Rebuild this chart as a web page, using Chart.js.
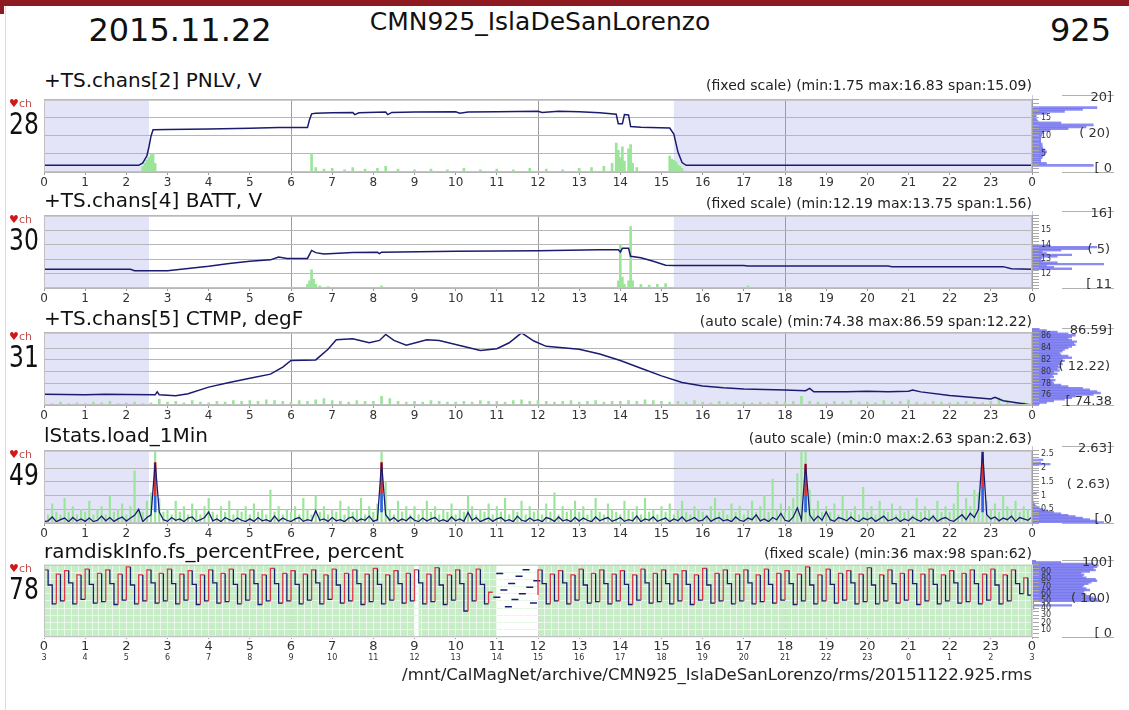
<!DOCTYPE html>
<html>
<head>
<meta charset="utf-8">
<script src="https://cdn.jsdelivr.net/npm/chart.js@4.4.1/dist/chart.umd.min.js"></script>
<style>
    body { margin: 0; background: #fff; }
    #page { position: relative; width: 1129px; height: 710px; overflow: hidden; background: #fff;
            font-family: 'DejaVu Sans', sans-serif; }
    .txt { position: absolute; white-space: nowrap; color: #111; }
    .rule { position: absolute; height: 0; border-top: 1px solid #b0b0b0; }
    canvas { position: absolute; }
</style>
</head>
<body>
<div id="page"></div>
<script>
// ---- HEADER TEXT ----
const dateText = "2015.11.22";
const stationText = "CMN925_IslaDeSanLorenzo";
const stationNum = "925";
const pathText = "/mnt/CalMagNet/archive/CMN925_IslaDeSanLorenzo/rms/20151122.925.rms";

// shaded night hours (panels 1-4)
const nightSpans = [[0, 2.55], [15.3, 24]];
// local hour = utc hour + offset (second label row of last panel)
const hourOffset = 3;

// ---- PANEL 1: PNLV ----
const pnlvHours = [0, 2.3, 2.4, 2.5, 2.55, 2.6, 2.65, 3, 4, 5, 5.7, 6.4, 6.45, 6.5, 6.6, 7, 7.5, 7.55, 7.65, 8.3,
    8.35, 8.45, 9, 10, 10.1, 10.3, 11, 12, 12.1, 12.5, 13, 13.5, 13.9, 13.95, 14.05, 14.1, 14.2, 14.25, 14.5, 15.2,
    15.3, 15.4, 15.5, 15.6, 24];
const pnlvVolts = [1.85, 1.85, 2.5, 4.5, 7.0, 10.0, 11.7, 11.8, 11.9, 12.1, 12.3, 12.3, 14.5, 16.1, 16.3, 16.4, 16.5, 15.9, 16.4, 16.6,
    15.9, 16.5, 16.6, 16.7, 16.3, 16.6, 16.7, 16.83, 16.5, 16.8, 16.7, 16.4, 16.0, 13.4, 13.4, 15.9, 15.8, 12.6, 12.4, 12.2,
    10.5, 5.5, 2.6, 1.85, 1.85];
const pnlvActHours = [2.4, 2.45, 2.5, 2.55, 2.6, 2.65, 2.7, 6.5, 6.6, 6.8, 7.0, 7.3, 7.5, 7.8, 8.1, 8.3, 8.6, 9.0, 9.4, 9.8,
    10.2, 10.6, 11.0, 11.4, 11.8, 12.2, 12.6, 13.0, 13.3, 13.6, 13.8, 13.9, 13.95, 14.0, 14.05, 14.1, 14.2, 14.25, 14.3, 14.4,
    15.2, 15.25, 15.3, 15.35, 15.4, 15.45, 15.5];
const pnlvAct = [0.08, 0.12, 0.16, 0.2, 0.24, 0.26, 0.12, 0.26, 0.06, 0.04, 0.05, 0.03, 0.06, 0.04, 0.05, 0.08, 0.04, 0.03, 0.04, 0.03,
    0.05, 0.03, 0.04, 0.03, 0.05, 0.04, 0.03, 0.05, 0.06, 0.08, 0.12, 0.4, 0.3, 0.2, 0.35, 0.15, 0.32, 0.38, 0.12, 0.06,
    0.22, 0.18, 0.16, 0.14, 0.1, 0.08, 0.05];
// histogram, 0..20 V in 0.5 V bins
const pnlvHist = [0, 0, 0, 85, 20, 12, 12, 14, 15, 18, 20, 18, 15, 14, 14, 12, 12, 12, 13, 14,
    16, 25, 50, 75, 85, 40, 8, 6, 5, 6, 20, 45, 70, 90, 0, 0, 0, 0, 0, 0];

// ---- PANEL 2: BATT ----
const battHours = [0, 2.1, 2.2, 3.0, 3.5, 4, 4.5, 5.0, 5.5, 5.7, 5.9, 6.4, 6.5, 6.6, 6.8, 7.5, 8.1, 8.15, 8.2, 10,
    12, 13.5, 13.95, 14.0, 14.05, 14.2, 14.25, 14.5, 14.8, 15.1, 15.3, 17, 17.1, 20.5, 20.6, 23.3, 23.5, 24];
const battVolts = [12.3, 12.3, 12.2, 12.2, 12.35, 12.5, 12.7, 12.85, 12.95, 13.15, 13.05, 13.05, 13.6, 13.45, 13.35, 13.45, 13.47, 13.38, 13.48, 13.55,
    13.58, 13.65, 13.65, 13.5, 13.75, 13.75, 13.2, 13.1, 12.85, 12.58, 12.55, 12.55, 12.52, 12.52, 12.48, 12.48, 12.33, 12.3];
const battActHours = [6.4, 6.45, 6.5, 6.55, 6.6, 6.7, 6.9, 8.2, 13.95, 14.0, 14.05, 14.1, 14.2, 14.25, 14.3, 14.5, 14.7, 14.9, 15.1, 17.1];
const battAct = [0.05, 0.1, 0.25, 0.12, 0.05, 0.03, 0.02, 0.03, 0.1, 0.6, 0.15, 0.05, 0.1, 0.85, 0.1, 0.05, 0.04, 0.05, 0.06, 0.03];
// histogram, 11..16 V in 0.1 V bins
const battHist = [0, 0, 0, 0, 0, 0, 0, 0, 0, 0,
    0, 0, 55, 30, 20, 100, 35, 15, 12, 14,
    35, 55, 20, 14, 40, 80, 90, 25, 0, 0,
    0, 0, 0, 0, 0, 0, 0, 0, 0, 0,
    0, 0, 0, 0, 0, 0, 0, 0, 0, 0];

// ---- PANEL 3: CTMP ----
const ctmpHours = [0, 0.5, 1, 1.5, 2, 2.7, 2.75, 2.8, 3.2, 3.5, 4, 4.5, 5, 5.5, 5.8, 6.0, 6.6, 6.9, 7.1, 7.5,
    7.9, 8.15, 8.3, 8.5, 8.8, 9.3, 9.6, 10.0, 10.6, 11.0, 11.3, 11.6, 11.9, 12.2, 13, 13.5, 14, 14.5, 15, 15.5,
    16, 16.5, 17, 18, 18.5, 18.6, 18.7, 19.5, 20, 20.5, 21, 21.1, 21.3, 22, 22.5, 23, 23.1, 23.3, 24];
const ctmpVals = [76.2, 76.15, 76.1, 76.2, 76.15, 76.1, 76.6, 76.1, 75.95, 76.3, 77.4, 78.2, 78.9, 79.6, 80.8, 81.9, 82.0, 83.8, 85.4, 85.6,
    84.9, 85.3, 86.3, 85.3, 84.5, 85.4, 85.3, 84.6, 83.6, 83.9, 84.9, 86.59, 85.2, 84.3, 83.8, 83.0, 81.9, 80.6, 79.3, 78.2,
    77.6, 77.3, 77.1, 76.9, 76.8, 77.2, 76.6, 76.6, 76.7, 76.6, 76.7, 76.9, 76.6, 76.0, 75.7, 75.4, 75.7, 75.1, 74.38];
// activity every 0.2 h
const ctmpAct = [0.03, 0.02, 0.04, 0.02, 0.03, 0.02, 0.04, 0.03, 0.05, 0.02,
    0.03, 0.04, 0.02, 0.03, 0.08, 0.04, 0.05, 0.03, 0.06, 0.04,
    0.03, 0.05, 0.04, 0.06, 0.05, 0.06, 0.05, 0.07, 0.06, 0.05,
    0.04, 0.06, 0.05, 0.07, 0.09, 0.06, 0.05, 0.04, 0.06, 0.05,
    0.05, 0.12, 0.09, 0.05, 0.04, 0.05, 0.04, 0.06, 0.05, 0.04,
    0.04, 0.05, 0.04, 0.06, 0.05, 0.05, 0.04, 0.06, 0.07, 0.05,
    0.06, 0.05, 0.04, 0.05, 0.06, 0.04, 0.05, 0.06, 0.04, 0.05,
    0.05, 0.06, 0.05, 0.07, 0.06, 0.05, 0.04, 0.05, 0.04, 0.06,
    0.04, 0.03, 0.05, 0.04, 0.03, 0.04, 0.03, 0.04, 0.03, 0.05,
    0.04, 0.05, 0.12, 0.05, 0.04, 0.03, 0.05, 0.04, 0.06, 0.04,
    0.04, 0.03, 0.06, 0.04, 0.05, 0.07, 0.04, 0.03, 0.05, 0.04,
    0.03, 0.04, 0.05, 0.04, 0.03, 0.05, 0.10, 0.04, 0.03, 0.04,
    0.03];
// histogram, 74.38..86.59 degF in 48 bins
const ctmpHist = [10, 20, 30, 45, 55, 60, 85, 95, 90, 80, 70, 50, 40, 30, 28, 32, 25, 30, 28, 35,
    30, 38, 35, 40, 36, 42, 40, 45, 42, 55, 50, 40, 38, 42, 45, 50, 55, 60, 58, 62,
    55, 50, 55, 60, 50, 35, 20, 10];

// ---- PANEL 4: load_1Min, every 0.1 h ----
const loadAvg = [0.05, 0.08, 0.22, 0.05, 0.12, 0.18, 0.05, 0.2, 0.07, 0.15,
    0.06, 0.18, 0.05, 0.1, 0.25, 0.08, 0.2, 0.06, 0.15, 0.22,
    0.07, 0.18, 0.28, 0.5, 0.05, 0.2, 0.3, 2.2, 0.4, 0.12,
    0.06, 0.2, 0.1, 0.15, 0.05, 0.18, 0.22, 0.06, 0.12, 0.2,
    0.4, 0.08, 0.15, 0.05, 0.2, 0.12, 0.06, 0.18, 0.1, 0.05,
    0.15, 0.06, 0.2, 0.08, 0.12, 0.05, 0.25, 0.07, 0.18, 0.1,
    0.05, 0.15, 0.2, 0.06, 0.12, 0.08, 0.45, 0.1, 0.15, 0.06,
    0.2, 0.08, 0.12, 0.05, 0.18, 0.22, 0.06, 0.15, 0.1, 0.25,
    0.06, 0.12, 2.2, 0.3, 0.1, 0.2, 0.06, 0.15, 0.08, 0.22,
    0.1, 0.05, 0.18, 0.07, 0.15, 0.2, 0.06, 0.12, 0.05, 0.22,
    0.08, 0.15, 0.06, 0.38, 0.1, 0.2, 0.05, 0.12, 0.18, 0.06,
    0.15, 0.2, 0.07, 0.12, 0.05, 0.25, 0.1, 0.06, 0.18, 0.08,
    0.12, 0.05, 0.2, 0.15, 0.06, 0.22, 0.08, 0.12, 0.05, 0.2,
    0.07, 0.18, 0.1, 0.05, 0.22, 0.08, 0.15, 0.2, 0.06, 0.12,
    0.2, 0.06, 0.12, 0.08, 0.25, 0.05, 0.15, 0.1, 0.22, 0.06,
    0.12, 0.18, 0.05, 0.15, 0.08, 0.22, 0.06, 0.12, 0.2, 0.07,
    0.1, 0.25, 0.06, 0.15, 0.2, 0.08, 0.12, 0.05, 0.22, 0.1,
    0.06, 0.18, 0.12, 0.3, 0.08, 0.15, 0.05, 0.2, 0.12, 0.35,
    0.1, 0.06, 0.22, 0.55, 0.12, 2.15, 0.3, 0.08, 0.25, 0.1,
    0.4, 0.12, 0.06, 0.2, 0.15, 0.08, 0.22, 0.1, 0.05, 0.18,
    0.12, 0.2, 0.06, 0.15, 0.25, 0.08, 0.12, 0.2, 0.05, 0.15,
    0.08, 0.22, 0.12, 0.06, 0.18, 0.1, 0.25, 0.06, 0.15, 0.2,
    0.1, 0.06, 0.18, 0.3, 0.12, 0.35, 0.2, 0.5, 2.63, 0.3,
    0.15, 0.22, 0.08, 0.18, 0.12, 0.25, 0.06, 0.2, 0.15, 0.1,
    0.22];
const loadMax = [0.5, 0.3, 0.7, 0.4, 0.3, 0.9, 0.4, 0.6, 0.3, 0.5,
    0.4, 0.8, 0.3, 0.5, 0.6, 0.3, 1.0, 0.4, 0.5, 0.7,
    0.3, 0.6, 1.9, 0.5, 0.4, 0.8, 1.1, 2.6, 0.9, 0.4,
    0.5, 0.3, 0.8, 0.4, 0.6, 0.3, 0.7, 0.5, 0.3, 0.6,
    0.9, 0.4, 0.3, 0.6, 0.4, 0.8, 0.3, 0.5, 0.4, 0.6,
    0.3, 0.7, 0.4, 0.5, 0.3, 1.2, 0.4, 0.6, 0.3, 0.5,
    0.4, 0.6, 0.3, 0.9, 0.5, 0.3, 1.0, 0.4, 0.6, 0.3,
    0.5, 0.4, 0.8, 0.3, 0.6, 0.4, 0.5, 0.9, 0.3, 0.6,
    0.4, 0.7, 2.6, 1.5, 0.5, 0.3, 0.8, 0.4, 0.6, 0.3,
    0.6, 0.3, 0.5, 0.8, 0.4, 0.6, 0.3, 0.5, 0.4, 0.7,
    0.3, 0.5, 0.4, 1.0, 0.6, 0.3, 0.5, 0.4, 0.7, 0.3,
    0.6, 0.4, 0.9, 0.3, 0.5, 0.4, 0.8, 0.3, 0.6, 0.4,
    0.5, 0.3, 0.7, 0.4, 1.1, 0.3, 0.6, 0.4, 0.5, 0.8,
    0.4, 0.6, 0.3, 0.5, 0.9, 0.4, 0.3, 0.7, 0.5, 0.4,
    0.3, 0.8, 0.5, 0.4, 0.6, 0.3, 0.9, 0.4, 0.5, 0.3,
    0.6, 0.4, 0.7, 0.3, 0.5, 0.8, 0.4, 0.3, 0.6, 0.5,
    0.4, 0.3, 0.6, 0.9, 0.4, 0.5, 0.3, 0.7, 0.4, 0.6,
    0.3, 0.5, 0.8, 0.4, 0.6, 1.0, 0.4, 1.6, 0.5, 0.7,
    0.4, 0.6, 0.9, 1.8, 2.6, 2.6, 1.2, 0.5, 0.8, 0.4,
    0.6, 0.4, 0.7, 0.3, 1.0, 0.5, 0.4, 0.6, 0.3, 1.3,
    0.4, 0.6, 0.3, 0.8, 0.5, 0.4, 0.7, 0.3, 0.6, 0.4,
    0.5, 0.3, 0.9, 0.4, 0.6, 0.5, 0.3, 0.8, 0.4, 0.6,
    0.4, 0.7, 1.5, 0.5, 0.9, 0.6, 1.2, 1.1, 2.6, 0.8,
    0.5, 0.7, 0.4, 1.0, 0.6, 0.5, 0.8, 0.4, 0.6, 0.5,
    0.3];
// the four load peaks: red upper part, blue lower part
const peakHours = [2.7, 8.2, 18.5, 22.8];
const peakTop = [2.2, 2.2, 2.15, 2.63];
const peakRedFrom = [1.0, 1.1, 1.0, 1.3];
const peakBlueFrom = [0.4, 0.4, 0.4, 0.4];
// histogram, 0..2.63 in 53 bins
const loadHist = [100, 90, 80, 70, 60, 50, 40, 30, 22, 15,
    10, 6, 4, 3, 2, 1, 1, 1, 1, 0,
    6, 0, 0, 0, 0, 1, 1, 1, 1, 0,
    0, 0, 0, 0, 0, 0, 0, 0, 0, 0,
    25, 12, 0, 15, 0, 0, 0, 0, 0, 0,
    0, 0, 0];

// ---- PANEL 5: ramdisk percent free, every 0.1 h ----
const ramFree = [74, 93, 72, 46, 87, 50, 92, 75, 46, 86,
    52, 94, 73, 47, 88, 49, 93, 74, 45, 87,
    51, 97, 72, 46, 86, 50, 93, 75, 47, 88,
    50, 94, 74, 46, 87, 51, 92, 73, 45, 86,
    50, 93, 75, 47, 88, 49, 94, 73, 46, 87,
    51, 93, 74, 45, 86, 50, 95, 74, 47, 88,
    50, 92, 73, 46, 87, 51, 93, 75, 46, 86,
    52, 94, 72, 47, 88, 50, 93, 74, 45, 87,
    49, 95, 73, 46, 86, 51, 92, 74, 47, 88,
    50, 93, 75, 46, 87, 49, 96, 72, 45, 86,
    51, 93, 74, 36, 88, 50, 94, 73, 46, 62,
    null, null, null, null, null, null, null, null, null, null,
    58, 93, 74, 46, 87, 50, 92, 75, 46, 86,
    51, 94, 72, 47, 88, 49, 93, 74, 46, 87,
    50, 92, 73, 45, 86, 51, 94, 75, 47, 88,
    49, 93, 74, 46, 87, 50, 92, 73, 45, 86,
    51, 95, 72, 47, 88, 50, 93, 74, 46, 87,
    50, 93, 75, 46, 86, 49, 94, 73, 47, 88,
    51, 92, 74, 45, 87, 50, 97, 72, 46, 86,
    50, 94, 73, 47, 88, 51, 92, 75, 46, 87,
    49, 96, 72, 46, 86, 50, 93, 74, 47, 88,
    51, 93, 74, 45, 87, 50, 94, 73, 46, 86,
    50, 92, 75, 47, 88, 49, 93, 74, 46, 87,
    51, 94, 72, 46, 86, 50, 93, 74, 60, 82,
    58];
// loose samples inside the 11-12 h gap
const ramGapHours = [11.0, 11.07, 11.17, 11.28, 11.36, 11.44, 11.54, 11.62, 11.71, 11.8, 11.89, 11.97];
const ramGapVals = [55, 88, 65, 42, 74, 52, 84, 60, 93, 69, 47, 78];
const ramGapSpans = [[9.0, 9.1], [11.0, 12.0]];
// histogram, 0..100 % in 2 % bins
const ramHist = [0, 0, 0, 0, 0, 0, 0, 0, 0, 0, 0, 0, 0, 0, 0, 0, 0, 0,
    3, 2, 55, 2, 2, 95, 90, 85, 80, 75, 70, 72, 80, 75, 70, 72, 78, 82, 90, 88,
    75, 70, 72, 68, 80, 88, 85, 90, 92, 85, 40, 5];

// ---- CHART SETUP ----
Chart.defaults.font.family = "'DejaVu Sans', sans-serif";
Chart.defaults.animation = false;
Chart.defaults.plugins.legend.display = false;
Chart.defaults.plugins.tooltip.enabled = false;

const PLOT_H = 77;
const NAVY = "#1b1b70";
const ACT_GREEN = "#9be59b";

// fills the plot background, shaded spans and frame
const panelBg = {
    id: "panelBg",
    beforeDraw(chart, args, opts) {
        const a = chart.chartArea, x = chart.scales.x, ctx = chart.ctx;
        ctx.save();
        if (opts.fill) {
            ctx.fillStyle = opts.fill;
            ctx.fillRect(a.left, a.top, a.right - a.left, a.bottom - a.top);
        }
        for (const s of (opts.spans || [])) {
            const x0 = x.getPixelForValue(s[0]);
            const x1 = x.getPixelForValue(s[1]);
            ctx.fillStyle = opts.spanColor;
            ctx.fillRect(x0, a.top, x1 - x0, a.bottom - a.top);
        }
        ctx.restore();
    },
    afterDraw(chart) {
        const a = chart.chartArea, ctx = chart.ctx;
        ctx.save();
        ctx.strokeStyle = "#c2c2c2";
        ctx.lineWidth = 1;
        ctx.strokeRect(a.left + 0.5, a.top + 0.5, a.right - a.left - 1, a.bottom - a.top - 1);
        ctx.restore();
    }
};
Chart.register(panelBg);

const page = document.getElementById("page");

function addText(str, x, y, size, align, color) {
    const el = document.createElement("div");
    const lh = Math.round(size * 1.2);
    el.className = "txt";
    el.textContent = str;
    el.style.fontSize = size + "px";
    el.style.lineHeight = lh + "px";
    el.style.top = (y - lh / 2) + "px";
    if (align === "right") el.style.right = (1129 - x) + "px";
    else if (align === "center") { el.style.left = x + "px"; el.style.transform = "translateX(-50%)"; }
    else el.style.left = x + "px";
    if (color) el.style.color = color;
    page.appendChild(el);
    return el;
}

function addCanvas(x, y, w, h) {
    const c = document.createElement("canvas");
    c.width = w;
    c.height = h;
    c.style.left = x + "px";
    c.style.top = y + "px";
    page.appendChild(c);
    return c;
}

function addRule(x0, x1, y) {
    const r = document.createElement("div");
    r.className = "rule";
    r.style.left = x0 + "px";
    r.style.width = (x1 - x0) + "px";
    r.style.top = y + "px";
    page.appendChild(r);
}

function lineSet(xs, ys, extra) {
    return Object.assign({
        type: "line",
        data: xs.map((h, i) => ({ x: h, y: ys[i] })),
        borderColor: NAVY, borderWidth: 1.5, pointRadius: 0, order: 0
    }, extra || {});
}

function barSet(xs, ys, axis, color, extra) {
    return Object.assign({
        type: "bar",
        data: xs.map((h, i) => ({ x: h, y: ys[i] })),
        yAxisID: axis, backgroundColor: color, barThickness: 2, grouped: false, order: 3
    }, extra || {});
}

function isMultiple(v, step) {
    const r = v / step;
    return Math.abs(r - Math.round(r)) < 1e-6;
}

// ---- ONE PANEL: histogram strip + main chart + texts ----
function makePanel(p) {
    const hc = addCanvas(1032, p.top, 72, PLOT_H);
    new Chart(hc, {
        type: "bar",
        data: {
            labels: p.hist.map((v, i) => i),
            datasets: [{
                data: p.hist, backgroundColor: "rgba(112,112,238,0.8)",
                barPercentage: 1, categoryPercentage: 1, inflateAmount: 0.4
            }]
        },
        options: {
            indexAxis: "y", responsive: false, layout: { padding: 0 },
            plugins: { panelBg: false },
            scales: { x: { display: false, min: 0, max: 100 }, y: { display: false, reverse: true } }
        }
    });

    const axisH = p.subLabels ? 28 : 22;
    const mc = addCanvas(0, p.top - 2, 1070, 2 + PLOT_H + axisH);

    const scales = {
        x: {
            type: "linear", min: 0, max: 24, offset: false, weight: 0,
            ticks: {
                stepSize: 1, autoSkip: false, maxRotation: 0, padding: p.subLabels ? 0 : 1, color: "#333",
                font: { size: p.subLabels ? 13 : 12 },
                callback: v => String(v % 24)
            },
            grid: {
                offset: false, tickLength: p.subLabels ? 2 : 3, tickColor: "#999",
                color: c => (c.tick && c.tick.value % 6 === 0) ? "#9c9c9c" : "rgba(0,0,0,0)"
            },
            border: { display: false },
            afterFit: s => { s.height = p.subLabels ? 16 : 22; }
        },
        y: {
            min: p.yMin, max: p.yMax,
            ticks: { display: false, stepSize: p.yStep },
            grid: { color: p.gridColor || "#b6b6b6", drawTicks: false },
            border: { display: false },
            afterFit: s => { s.width = 0; }
        },
        // ruler on the right edge
        yr: {
            position: "right", min: p.yMin, max: p.yMax,
            ticks: {
                stepSize: p.rulerStep, autoSkip: false, padding: 2, color: "#333", font: { size: 8 },
                callback: v => (isMultiple(v, p.rulerLabelStep) && v > p.yMin + 1e-6 && v < p.yMax - 1e-6)
                    ? String(Math.round(v * 10) / 10) : ""
            },
            grid: { drawOnChartArea: false, tickLength: 7, color: "#a8a8a8" },
            border: { display: false },
            afterFit: s => { s.width = 38; }
        },
        ya: { display: false, min: 0, max: 1 }
    };

    if (p.subLabels) {
        scales.x2 = {
            type: "linear", position: "bottom", min: 0, max: 24, weight: 1,
            ticks: { stepSize: 1, autoSkip: false, maxRotation: 0, padding: 0, color: "#333", font: { size: 8 },
                callback: v => String((v + hourOffset) % 24) },
            grid: { display: false, drawTicks: false },
            border: { display: false },
            afterFit: s => { s.height = 12; }
        };
        scales.xg = {
            type: "linear", position: "bottom", min: 0, max: 24, weight: 2,
            ticks: { display: false, stepSize: 1 / 6, autoSkip: false },
            grid: { color: "rgba(255,255,255,0.6)", drawTicks: false },
            border: { display: false },
            afterFit: s => { s.height = 0; }
        };
    }

    new Chart(mc, {
        type: "line",
        data: { datasets: p.datasets },
        options: {
            responsive: false,
            layout: { padding: { left: 44, top: 2, right: 0, bottom: 0 } },
            plugins: { panelBg: p.bg },
            scales: scales
        }
    });

    // texts round the panel
    addText(p.title, 44, p.titleY, 20, "left", "#111");
    addText(p.info, 1032, p.infoY, 14, "right", "#222");
    const ch = addText("", 9, p.top + 8, 11, "left", "#c05050");
    ch.innerHTML = '<span style="color:#d01818">\u2665</span>ch';
    const num = addText(p.chan, 9, p.top + 29, 30, "left", "#111");
    num.style.transform = "scaleX(0.78)";
    num.style.transformOrigin = "left center";

    addRule(1062, 1114, p.top);
    addRule(1062, 1114, p.top + PLOT_H);
    addText(p.brackets[0], 1112, p.top + 2, 13, "right", "#333");
    addText(p.brackets[1], 1110, p.top + 38, 13, "right", "#333");
    addText(p.brackets[2], 1112, p.top + PLOT_H - 4, 13, "right", "#333");
}

const nightBg = { spans: nightSpans, spanColor: "#e4e4f8" };

const panels = [
    {
        top: 95, titleY: 80, infoY: 85, chan: "28",
        title: "+TS.chans[2] PNLV, V", info: "(fixed scale) (min:1.75 max:16.83 span:15.09)",
        yMin: 0, yMax: 20, yStep: 5, rulerStep: 1, rulerLabelStep: 5,
        hist: pnlvHist, brackets: ["20]", "( 20)", "[ 0"], bg: nightBg,
        datasets: [
            lineSet(pnlvHours, pnlvVolts),
            barSet(pnlvActHours, pnlvAct, "ya", ACT_GREEN)
        ]
    },
    {
        top: 211, titleY: 200, infoY: 203, chan: "30",
        title: "+TS.chans[4] BATT, V", info: "(fixed scale) (min:12.19 max:13.75 span:1.56)",
        yMin: 11, yMax: 16, yStep: 1, rulerStep: 0.2, rulerLabelStep: 1,
        hist: battHist, brackets: ["16]", "( 5)", "[ 11"], bg: nightBg,
        datasets: [
            lineSet(battHours, battVolts),
            barSet(battActHours, battAct, "ya", ACT_GREEN)
        ]
    },
    {
        top: 328, titleY: 318, infoY: 321, chan: "31",
        title: "+TS.chans[5] CTMP, degF", info: "(auto scale) (min:74.38 max:86.59 span:12.22)",
        yMin: 74.38, yMax: 86.59, yStep: 2, rulerStep: 0.5, rulerLabelStep: 2,
        hist: ctmpHist, brackets: ["86.59]", "( 12.22)", "[ 74.38"], bg: nightBg,
        datasets: [
            lineSet(ctmpHours, ctmpVals),
            barSet(ctmpAct.map((v, i) => i / 5), ctmpAct, "ya", ACT_GREEN)
        ]
    },
    {
        top: 446, titleY: 435, infoY: 438, chan: "49",
        title: "lStats.load_1Min", info: "(auto scale) (min:0 max:2.63 span:2.63)",
        yMin: 0, yMax: 2.63, yStep: 0.5, rulerStep: 0.1, rulerLabelStep: 0.5,
        hist: loadHist, brackets: ["2.63]", "( 2.63)", "[ 0"], bg: nightBg,
        datasets: [
            lineSet(loadAvg.map((v, i) => i / 10), loadAvg, { borderWidth: 1.3 }),
            barSet(peakHours, peakTop.map((v, i) => [peakRedFrom[i], v]), "y", "#e23030", { order: 1 }),
            barSet(peakHours, peakRedFrom.map((v, i) => [peakBlueFrom[i], v]), "y", "#2f64e8", { order: 1 }),
            barSet(loadMax.map((v, i) => i / 10), loadMax, "y", ACT_GREEN, { barThickness: 1.5 })
        ]
    },
    {
        top: 560, titleY: 551, infoY: 553, chan: "78", subLabels: true,
        title: "ramdiskInfo.fs_percentFree, percent", info: "(fixed scale) (min:36 max:98 span:62)",
        yMin: 0, yMax: 100, yStep: 10, rulerStep: 5, rulerLabelStep: 10, gridColor: "#e6f7e6",
        hist: ramHist, brackets: ["100]", "( 100)", "[ 0"],
        bg: { fill: "#c6edc6", spans: ramGapSpans, spanColor: "#ffffff" },
        datasets: [
            lineSet(ramFree.map((v, i) => i / 10), ramFree, {
                stepped: "after", borderWidth: 1.3,
                segment: { borderColor: c => c.p1.parsed.y > c.p0.parsed.y ? "#e0344c" : NAVY }
            }),
            lineSet(ramGapHours, ramGapVals, {
                showLine: false, pointStyle: "line", pointRadius: 3.5, pointBorderWidth: 1.5, pointBorderColor: NAVY
            })
        ]
    }
];

// ---- PAGE FRAME + HEADER ----
const band = document.createElement("div");
band.style.cssText = "position:absolute;left:0;top:0;width:1129px;height:6px;background:#8c1a20;";
page.appendChild(band);
const stub = document.createElement("div");
stub.style.cssText = "position:absolute;left:0;top:0;width:4px;height:14px;background:#8c1a20;";
page.appendChild(stub);
const edge = document.createElement("div");
edge.style.cssText = "position:absolute;left:5px;top:6px;width:1px;height:704px;background:#dcdcdc;";
page.appendChild(edge);

addText(dateText, 180, 30, 32, "center", "#111");
addText(stationText, 540, 22, 25, "center", "#111");
addText(stationNum, 1111, 30, 32, "right", "#111");

for (const p of panels) makePanel(p);

addText(pathText, 1032, 675, 16.5, "right", "#222");
</script>
</body>
</html>
